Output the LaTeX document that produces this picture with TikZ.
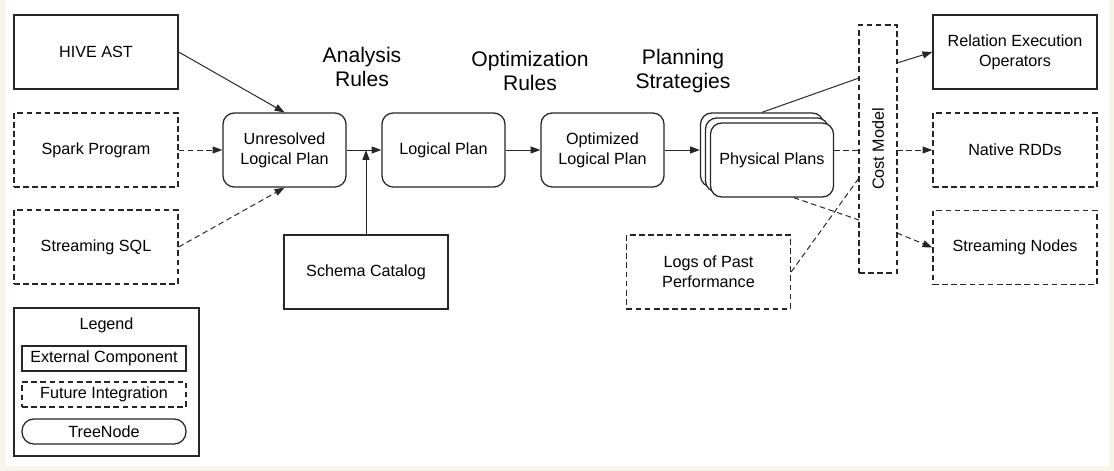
\documentclass[tikz,border=0pt]{standalone}
\usepackage{fontspec}
\setmainfont{Liberation Sans}
\usetikzlibrary{arrows.meta}

\definecolor{frame}{HTML}{F7F4EC}

\tikzset{
    ext/.style={draw=black!85, line width=0.9pt, fill=white, minimum width=4.1cm, minimum height=1.85cm, align=center, font=\fontsize{11.5}{14}\selectfont},
    future/.style={ext, dash pattern=on 4pt off 2.5pt},
    tree/.style={ext, rounded corners=8pt, minimum width=3.075cm},
    heading/.style={align=center, font=\fontsize{15}{17.5}\selectfont},
    flow/.style={draw=black!85, line width=0.7pt, -{Triangle[length=7pt,width=5pt]}},
    link/.style={draw=black!85, line width=0.7pt},
    dashlink/.style={link, dash pattern=on 4pt off 2.5pt}
}

\begin{document}
\begin{tikzpicture}[x=0.025cm, y=-0.025cm]
        % Background and frame
        \fill[frame] (0,0) rectangle (1114,471);
        \fill[white] (6,0) rectangle (1109,466);
        \useasboundingbox (0,0) rectangle (1114,471);

        % Inputs
        \node[ext] (hive) at (96,52) {HIVE AST};
        \node[future] (spark) at (96,150) {Spark Program};
        \node[future] (sql) at (96,247) {Streaming SQL};

        % Tree nodes along the pipeline
        \node[tree] (unres) at (284.5,150) {Unresolved\\Logical Plan};
        \node[tree] (logical) at (443.5,150) {Logical Plan};
        \node[tree] (optim) at (602.5,150) {Optimized\\Logical Plan};
        \node[tree] (pp3) at (762,150) {};
        \node[tree] (pp2) at (767,155) {};
        \node[tree] (pp) at (772,160) {Physical Plans};

        % Rule labels
        \node[heading] (analysis) at (362,67) {Analysis\\Rules};
        \node[heading] (optrules) at (530,71) {Optimization\\Rules};
        \node[heading] (planning) at (683,71) {Planning\\Strategies};

        % Side inputs
        \node[ext] (schema) at (366,272) {Schema Catalog};
        \node[future] (logs) at (708.5,272) {Logs of Past\\Performance};

        % Cost model
        \node[future, minimum width=0.95cm, minimum height=6.2cm] (cost) at (878,149) {\rotatebox{90}{Cost Model}};
        \coordinate (cin1) at (859,78);
        \coordinate (cin2) at (859,150);
        \coordinate (cin3) at (859,220);
        \coordinate (cin4) at (859,178);
        \coordinate (cout1) at (897,63);
        \coordinate (cout2) at (897,150);
        \coordinate (cout3) at (897,233);

        % Outputs
        \node[ext] (rel) at (1015,52) {Relation Execution\\Operators};
        \node[future] (native) at (1015,150) {Native RDDs};
        \node[future] (stream) at (1015,247.5) {Streaming Nodes};

        % Connectors
        \draw[flow] (hive.east) -- (unres.north);
        \draw[flow, dash pattern=on 4pt off 2.5pt] (spark) -- (unres);
        \draw[flow, dash pattern=on 4pt off 2.5pt] (sql.east) -- (unres.south);
        \draw[flow] (unres) -- (logical);
        \draw[flow] (schema.north) -- (schema.north |- unres.east);
        \draw[flow] (logical) -- (optim);
        \draw[flow] (optim) -- (pp3);
        \draw[link] (pp3.north) -- (cin1);
        \draw[flow] (cout1) -- (rel.west);
        \draw[dashlink] (pp.east |- cin2) -- (cin2);
        \draw[flow, dash pattern=on 4pt off 2.5pt] (cout2) -- (native);
        \draw[dashlink] (pp.-60) -- (cin3);
        \draw[flow, dash pattern=on 4pt off 2.5pt] (cout3) -- (stream.west);
        \draw[dashlink] (logs.east) -- (cin4);

        % Legend
        \node[draw=black!85, line width=0.9pt, minimum width=4.625cm, minimum height=3.7cm] (legend) at (106.5,382) {};
        \node[font=\fontsize{11.5}{14}\selectfont] (legtitle) at (106.5,325) {Legend};
        \node[ext, minimum height=0.625cm] (legext) at (104,358.5) {External Component};
        \node[future, minimum height=0.625cm] (legfut) at (104,394.5) {Future Integration};
        \node[ext, rounded corners=8.5pt, minimum height=0.625cm] (legtree) at (104,431.5) {TreeNode};
    \end{tikzpicture}
\end{document}
